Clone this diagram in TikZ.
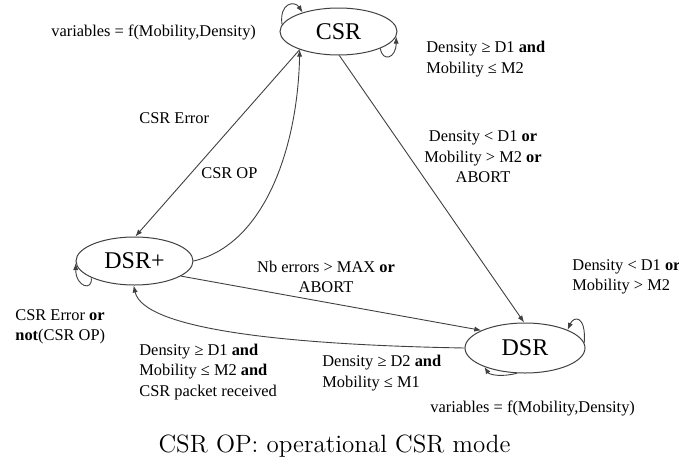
\documentclass[tikz,border=0pt]{standalone}
\usepackage{fontspec}
\newfontfamily\tms{Liberation Serif}
\usetikzlibrary{shapes.geometric,arrows.meta}
\tikzset{
  state/.style={draw=black!75, line width=0.5pt, ellipse, inner sep=0pt,
    font=\tms\fontsize{12}{14}\selectfont},
  lbl/.style={inner sep=0pt, align=left, font=\tms\fontsize{8.2}{10.3}\selectfont},
  clbl/.style={inner sep=0pt, align=center, font=\tms\fontsize{8.2}{10.3}\selectfont},
  edge/.style={draw=black!75, line width=0.45pt, -{Latex[length=3.5pt,width=2.6pt]}}
}
\begin{document}
\begin{tikzpicture}[x=0.5pt,y=-0.5pt]
\useasboundingbox (0,0) rectangle (679,466);
% states
\node[state, minimum width=58.5pt, minimum height=23.5pt] (csr) at (338.5,31.5) {CSR};
\node[state, minimum width=58.5pt, minimum height=24pt] (dsrp) at (134.5,261) {DSR+};
\node[state, minimum width=60pt, minimum height=25pt] (dsr) at (525,348) {DSR};
% labels
\node[lbl, anchor=west] (l1) at (51,32) {variables = f(Mobility,Density)};
\node[lbl, anchor=west] (l2) at (426,59) {Density ≥ D1 \textbf{and}\\Mobility ≤ M2};
\node[lbl, anchor=west] (l3) at (139,118) {CSR Error};
\node[lbl, anchor=west] (l4) at (201,173) {CSR OP};
\node[clbl] (l5) at (483,157) {Density < D1 \textbf{or}\\Mobility > M2 \textbf{or}\\ABORT};
\node[clbl] (l6) at (326,277) {Nb errors > MAX \textbf{or}\\ABORT};
\node[lbl, anchor=west] (l7) at (572,277) {Density < D1 \textbf{or}\\Mobility > M2};
\node[lbl, anchor=west] (l8) at (15,327) {CSR Error \textbf{or}\\\textbf{not}(CSR OP)};
\node[lbl, anchor=west] (l9) at (139,372) {Density ≥ D1 \textbf{and}\\Mobility ≤ M2 \textbf{and}\\CSR packet received};
\node[lbl, anchor=west] (l10) at (322,373) {Density ≥ D2 \textbf{and}\\Mobility ≤ M1};
\node[lbl, anchor=west] (l11) at (430,408) {variables = f(Mobility,Density)};
\node[inner sep=0pt, anchor=base, font=\fontsize{12.5}{14}\selectfont] (cap) at (334.5,452.5) {CSR OP: operational CSR mode};
% transitions
\draw[edge] (csr.205) -- (dsrp.88);
\draw[edge] (dsrp.0) .. controls +(70,-16) and +(-2,100) .. (csr.205);
\draw[edge] (csr.272) -- (dsr.92);
\draw[edge] (dsrp.342) -- (dsr.158);
\draw[edge] (dsr.180) .. controls +(-170,-3) and +(10,45) .. (dsrp.268);
% self loops
\draw[edge] (csr.173) .. controls +(-3,-22) and +(-8,-12) .. (csr.152);
\draw[edge] (csr.338) .. controls +(2,14) and +(0,22) .. (csr.355);
\draw[edge] (dsrp.201) .. controls +(2,14) and +(0,24) .. (dsrp.182);
\draw[edge] (dsr.5) .. controls +(2,-28) and +(6,-14) .. (dsr.23);
\draw[edge] (dsr.252) .. controls +(-15,4) and +(5,8) .. (dsr.205);
\end{tikzpicture}
\end{document}
